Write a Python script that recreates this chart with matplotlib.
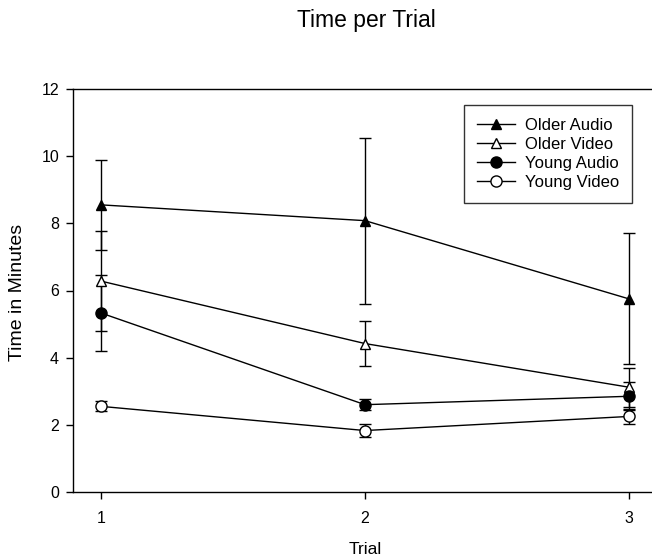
import matplotlib
matplotlib.use("Agg")
import matplotlib.pyplot as plt

plt.rcParams['font.family'] = ['Liberation Sans', 'DejaVu Sans']

trials = [1, 2, 3]
older_audio = [8.55, 8.08, 5.75]
older_audio_err = [1.35, 2.47, 1.95]
older_video = [6.28, 4.42, 3.12]
older_video_err = [1.48, 0.68, 0.58]
young_audio = [5.33, 2.60, 2.85]
young_audio_err = [1.13, 0.17, 0.42]
young_video = [2.55, 1.83, 2.25]
young_video_err = [0.15, 0.20, 0.22]

series = [
    ("Older Audio", older_audio, older_audio_err, '^', 'black', 7.5),
    ("Older Video", older_video, older_video_err, '^', 'white', 7.5),
    ("Young Audio", young_audio, young_audio_err, 'o', 'black', 8),
    ("Young Video", young_video, young_video_err, 'o', 'white', 8),
]

fig = plt.figure(figsize=(6.52, 5.57), dpi=100)
ax = fig.add_axes([73/652, 1 - 492/557, 1 - 73/652, (492 - 89)/557])

handles = []
for name, vals, errs, mk, fc, ms in series:
    c = ax.errorbar(trials, vals, yerr=errs, fmt='-', color='black', lw=1.0,
                    marker=mk, markerfacecolor=fc, markeredgecolor='black',
                    markersize=ms, markeredgewidth=1.0, capsize=4.5, capthick=1.0,
                    elinewidth=1.0, label=name)
    handles.append(c.lines[0])

ax.set_xlim(1 - 28/264, 3 + 23/264)
ax.set_ylim(0, 12)
ax.set_xticks(trials)
ax.set_yticks([0, 2, 4, 6, 8, 10, 12])
ax.spines['right'].set_visible(False)
for s in ['left', 'top', 'bottom']:
    ax.spines[s].set_linewidth(1.0)
ax.tick_params(direction='out', length=5, width=1, labelsize=11.5)
ax.tick_params(axis='x', pad=9)
ax.tick_params(axis='y', pad=5)

ax.set_xlabel('Trial', fontsize=12.5, va='center')
ax.xaxis.set_label_coords((365 - 73)/579, (492 - 550)/403)
ax.set_ylabel('Time in Minutes', fontsize=14, va='center')
ax.yaxis.set_label_coords((18 - 73)/579, (492 - 292)/403)
fig.text(366/652, 1 - 21/557, 'Time per Trial', fontsize=16.5, ha='center', va='center')

leg = ax.legend(handles=handles, labels=[s[0] for s in series],
                loc='upper right', bbox_to_anchor=((632-73)/579, 1 - 16/403),
                frameon=True, fancybox=False, edgecolor='black', fontsize=12,
                handlelength=2.3, handletextpad=0.6, borderpad=0.75,
                labelspacing=0.25, borderaxespad=0.0)
leg.get_frame().set_linewidth(1.0)

fig.savefig('out.png', dpi=100)
